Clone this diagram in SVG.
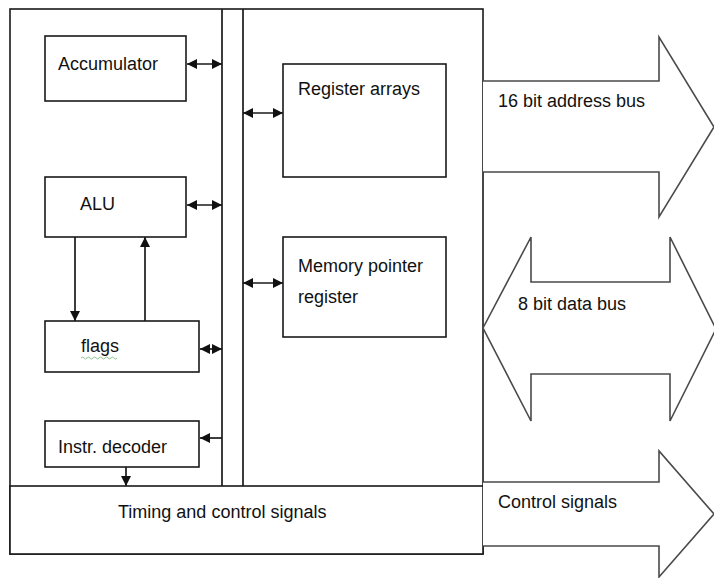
<svg xmlns="http://www.w3.org/2000/svg" width="714" height="578" viewBox="0 0 714 578">
  <style>
    .box { fill: #fff; stroke: #1a1a1a; stroke-width: 1.6; }
    .wire { fill: none; stroke: #1a1a1a; stroke-width: 1.7; }
    .bus { fill: #fff; stroke: #4a4a4a; stroke-width: 1.6; stroke-linejoin: miter; }
    .lbl { font-family: "Liberation Sans", Arial, sans-serif; font-size: 18px; fill: #111; }
  </style>
  <defs>
    <marker id="head" viewBox="0 0 10 10" refX="10" refY="5" markerWidth="10" markerHeight="10" markerUnits="userSpaceOnUse" orient="auto-start-reverse">
      <path d="M0,0 L10,5 L0,10 z" fill="#111"/>
    </marker>
  </defs>

  <rect width="714" height="578" fill="#fff"/>

  <!-- CPU outline -->
  <g id="cpu">
    <rect class="box" x="10" y="9" width="473" height="545"/>
  </g>

  <!-- internal bus: two vertical rails -->
  <g id="internal-bus">
    <line class="wire" x1="222" y1="9" x2="222" y2="486"/>
    <line class="wire" x1="243" y1="9" x2="243" y2="486"/>
  </g>

  <g id="accumulator">
    <rect class="box" x="45" y="36" width="141" height="65"/>
    <text class="lbl" x="58" y="70">Accumulator</text>
  </g>

  <g id="alu">
    <rect class="box" x="45" y="177" width="141" height="60"/>
    <text class="lbl" x="80" y="210">ALU</text>
  </g>

  <g id="flags">
    <rect class="box" x="45" y="321" width="154" height="51"/>
    <text class="lbl" x="81" y="352">flags</text>
    <path d="M81,358 q1.5,-2 3,0 t3,0 t3,0 t3,0 t3,0 t3,0 t3,0 t3,0 t3,0 t3,0 t3,0 t3,0" fill="none" stroke="#7fbf7f" stroke-width="0.9"/>
  </g>

  <g id="instr-decoder">
    <rect class="box" x="45" y="421" width="154" height="46"/>
    <text class="lbl" x="58" y="453">Instr. decoder</text>
  </g>

  <g id="register-arrays">
    <rect class="box" x="283" y="64" width="163" height="113"/>
    <text class="lbl" x="298" y="95">Register arrays</text>
  </g>

  <g id="memory-pointer">
    <rect class="box" x="283" y="237" width="163" height="100"/>
    <text class="lbl" x="298" y="272">Memory pointer</text>
    <text class="lbl" x="298" y="303">register</text>
  </g>

  <g id="timing-control">
    <rect class="box" x="10" y="486" width="473" height="68"/>
    <text class="lbl" x="118" y="518">Timing and control signals</text>
  </g>

  <!-- external buses -->
  <g id="address-bus">
    <path class="bus" d="M483,81 L659,81 L659,37 L714,127 L659,217 L659,172 L483,172"/>
    <text class="lbl" x="498" y="107">16 bit address bus</text>
  </g>

  <g id="data-bus">
    <path class="bus" d="M483,328 L531,237 L531,282 L670,282 L670,237 L716,329 L670,421 L670,374 L531,374 L531,421 Z"/>
    <text class="lbl" x="518" y="310">8 bit data bus</text>
  </g>

  <g id="control-bus">
    <path class="bus" d="M483,482 L659,482 L659,451 L714,514 L659,577 L659,546 L483,546"/>
    <text class="lbl" x="498" y="508">Control signals</text>
  </g>

  <!-- connectors -->
  <g id="connectors">
    <line class="wire" x1="187" y1="64" x2="222" y2="64" marker-start="url(#head)" marker-end="url(#head)"/>
    <line class="wire" x1="187" y1="205" x2="222" y2="205" marker-start="url(#head)" marker-end="url(#head)"/>
    <line class="wire" x1="200" y1="349" x2="222" y2="349" marker-start="url(#head)" marker-end="url(#head)"/>
    <line class="wire" x1="222" y1="438" x2="200" y2="438" marker-end="url(#head)"/>
    <line class="wire" x1="126" y1="467" x2="126" y2="486" marker-end="url(#head)"/>
    <line class="wire" x1="75" y1="237" x2="75" y2="321" marker-end="url(#head)"/>
    <line class="wire" x1="145" y1="321" x2="145" y2="237" marker-end="url(#head)"/>
    <line class="wire" x1="243" y1="113" x2="283" y2="113" marker-start="url(#head)" marker-end="url(#head)"/>
    <line class="wire" x1="243" y1="283" x2="283" y2="283" marker-start="url(#head)" marker-end="url(#head)"/>
  </g>
</svg>
